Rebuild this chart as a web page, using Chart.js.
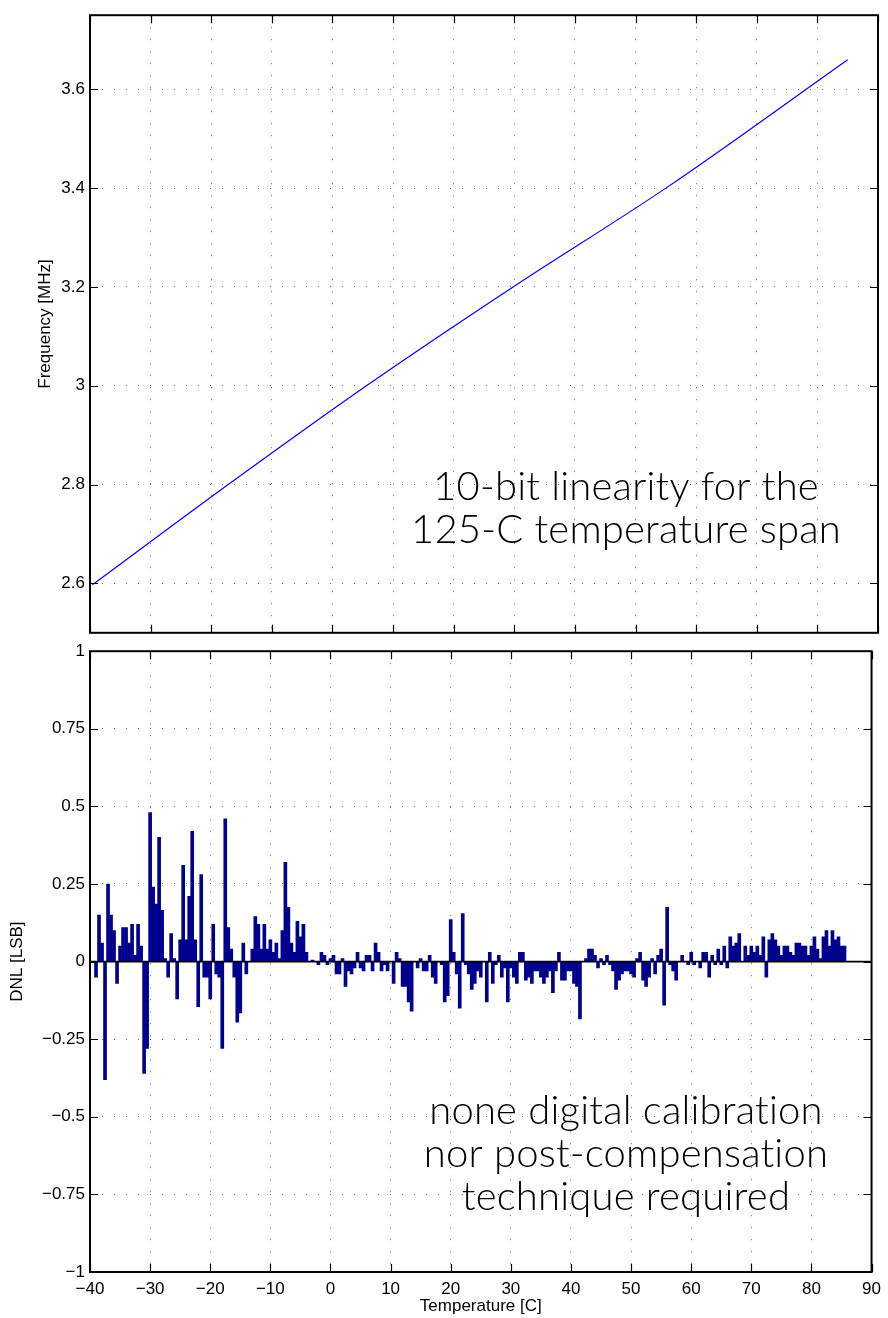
<!DOCTYPE html>
<html>
<head>
<meta charset="utf-8">
<script src="https://cdn.jsdelivr.net/npm/chart.js@4"></script>
<style>
  html, body { margin: 0; padding: 0; background: #fff; }
  #wrap { position: relative; width: 888px; height: 1318px; }
  #freq-box { position: absolute; left: 0; top: 0; width: 888px; height: 648px; }
  #dnl-box { position: absolute; left: 0; top: 636px; width: 888px; height: 682px; }
</style>
</head>
<body>
<div id="wrap">
  <div id="freq-box"><canvas id="freq-chart"></canvas></div>
  <div id="dnl-box"><canvas id="dnl-chart"></canvas></div>
</div>
<script>
// Top panel: output frequency vs temperature
const freqTemps = [-39.6, -17.2, 5.6, 29.8, 55, 85];
const freqValues = [2.597, 2.8, 3.0, 3.2, 3.4, 3.66];

// Bottom panel: DNL per code, one bar every 0.5 C
const dnlTemps = [
  -39, -38.5, -38, -37.5, -37, -36.5, -36, -35.5, -35, -34.5,
  -34, -33.5, -33, -32.5, -32, -31.5, -31, -30.5, -30, -29.5,
  -29, -28.5, -28, -27.5, -27, -26.5, -26, -25.5, -25, -24.5,
  -24, -23.5, -23, -22.5, -22, -21.5, -21, -20.5, -20, -19.5,
  -19, -18.5, -18, -17.5, -17, -16.5, -16, -15.5, -15, -14.5,
  -14, -13.5, -13, -12.5, -12, -11.5, -11, -10.5, -10, -9.5,
  -9, -8.5, -8, -7.5, -7, -6.5, -6, -5.5, -5, -4.5,
  -4, -3.5, -3, -2.5, -2, -1.5, -1, -0.5, 0, 0.5,
  1, 1.5, 2, 2.5, 3, 3.5, 4, 4.5, 5, 5.5,
  6, 6.5, 7, 7.5, 8, 8.5, 9, 9.5, 10, 10.5,
  11, 11.5, 12, 12.5, 13, 13.5, 14, 14.5, 15, 15.5,
  16, 16.5, 17, 17.5, 18, 18.5, 19, 19.5, 20, 20.5,
  21, 21.5, 22, 22.5, 23, 23.5, 24, 24.5, 25, 25.5,
  26, 26.5, 27, 27.5, 28, 28.5, 29, 29.5, 30, 30.5,
  31, 31.5, 32, 32.5, 33, 33.5, 34, 34.5, 35, 35.5,
  36, 36.5, 37, 37.5, 38, 38.5, 39, 39.5, 40, 40.5,
  41, 41.5, 42, 42.5, 43, 43.5, 44, 44.5, 45, 45.5,
  46, 46.5, 47, 47.5, 48, 48.5, 49, 49.5, 50, 50.5,
  51, 51.5, 52, 52.5, 53, 53.5, 54, 54.5, 55, 55.5,
  56, 56.5, 57, 57.5, 58, 58.5, 59, 59.5, 60, 60.5,
  61, 61.5, 62, 62.5, 63, 63.5, 64, 64.5, 65, 65.5,
  66, 66.5, 67, 67.5, 68, 68.5, 69, 69.5, 70, 70.5,
  71, 71.5, 72, 72.5, 73, 73.5, 74, 74.5, 75, 75.5,
  76, 76.5, 77, 77.5, 78, 78.5, 79, 79.5, 80, 80.5,
  81, 81.5, 82, 82.5, 83, 83.5, 84, 84.5, 85, 85.5
];
const dnlValues = [
  -0.05, 0.15, 0.06, -0.38, 0.25, 0.15, 0.10, -0.07, 0.05, 0.11,
  0.11, 0.06, 0.12, 0.02, 0.12, 0.05, -0.36, -0.28, 0.48, 0.24,
  0.185, 0.40, 0.165, 0.01, -0.05, 0.09, 0.01, -0.12, 0.07, 0.31,
  0.07, 0.21, 0.42, 0.07, -0.145, 0.28, -0.05, -0.05, -0.12, 0.12,
  -0.04, -0.05, -0.28, 0.46, 0.11, 0.04, -0.05, -0.195, -0.165, 0.06,
  -0.04, 0, 0.04, 0.145, 0.12, 0.04, 0.12, 0.04, 0.07, 0.03,
  0.06, 0.01, 0.10, 0.32, 0.175, 0.06, 0.03, 0.13, 0.08, 0.12,
  0.03, 0, 0.005, 0, -0.01, 0.03, 0.02, -0.01, 0.01, 0.02,
  -0.04, -0.04, 0.01, -0.08, -0.03, -0.04, -0.02, 0.03, -0.02, -0.03,
  0.02, 0.02, -0.03, 0.06, 0.03, -0.03, -0.01, -0.03, 0, -0.07,
  0.03, 0.01, -0.08, -0.08, -0.13, -0.16, 0, -0.02, 0.01, -0.03,
  -0.03, 0.02, -0.05, -0.07, 0, -0.01, -0.13, -0.11, 0.135, 0.03,
  -0.04, -0.15, 0.155, -0.01, -0.04, -0.09, -0.07, -0.03, -0.05, 0,
  -0.13, 0.03, -0.07, -0.01, 0.02, -0.05, -0.02, -0.13, -0.02, -0.05,
  -0.07, 0.03, 0.03, -0.06, -0.05, -0.07, -0.03, -0.03, -0.05, -0.07,
  -0.05, -0.03, -0.10, -0.03, 0.03, -0.06, -0.06, -0.03, -0.03, -0.07,
  -0.08, -0.185, 0, 0.01, 0.04, 0.04, 0.02, -0.02, 0.01, -0.01,
  0.02, -0.01, -0.03, -0.09, -0.06, -0.04, -0.03, -0.03, -0.04, -0.05,
  0.01, 0.03, -0.06, -0.08, -0.05, 0.01, -0.04, 0.02, 0.04, -0.14,
  0.175, -0.01, -0.03, -0.06, 0, 0.02, 0, -0.01, 0.03, -0.01,
  0, -0.02, 0.03, 0.03, -0.05, 0.02, -0.01, 0.04, -0.01, 0.05,
  -0.02, 0.08, 0.05, 0.06, 0.09, 0, 0.05, 0.02, 0.05, 0.03,
  0.05, 0.02, 0.08, -0.05, 0.07, 0.09, 0.07, 0.05, 0.02, 0.05,
  0.05, 0.03, 0.02, 0.06, 0.06, 0.05, 0.05, 0.02, 0.05, 0.08,
  0.04, 0.01, 0.08, 0.10, 0.05, 0.10, 0.07, 0.08, 0.05, 0.05
];

// Axis ticks and labels
const xTicks = [-40, -30, -20, -10, 0, 10, 20, 30, 40, 50, 60, 70, 80, 90];
const xLabels = ['\u221240', '\u221230', '\u221220', '\u221210', '0', '10', '20', '30', '40', '50', '60', '70', '80', '90'];
const freqTicks = [2.6, 2.8, 3.0, 3.2, 3.4, 3.6];
const freqLabels = ['2.6', '2.8', '3', '3.2', '3.4', '3.6'];
const dnlTicks = [-1, -0.75, -0.5, -0.25, 0, 0.25, 0.5, 0.75, 1];
const dnlLabels = ['\u22121', '\u22120.75', '\u22120.5', '\u22120.25', '0', '0.25', '0.5', '0.75', '1'];

// Text notes inside the panels
const freqNote = ['10-bit linearity for the', '125-C temperature span'];
const dnlNote = ['none digital calibration', 'nor post-compensation', 'technique required'];

const axisFont = { family: "'Liberation Sans', Arial, Helvetica, sans-serif", size: 17 };
const gridColor = 'rgba(0, 0, 0, 0.6)';
const barColor = '#00008f';

// MATLAB-style box with ticks pointing inwards on all four sides
const boxPlugin = {
    id: 'box',
    afterDraw(chart) {
        const { ctx, chartArea: a, scales } = chart;
        const len = 8;
        ctx.save();
        ctx.strokeStyle = '#000';
        ctx.lineWidth = 1.2;
        ctx.beginPath();
        scales.x.ticks.forEach(t => {
            const px = Math.round(scales.x.getPixelForValue(t.value)) + 0.5;
            ctx.moveTo(px, a.bottom); ctx.lineTo(px, a.bottom - len);
            ctx.moveTo(px, a.top); ctx.lineTo(px, a.top + len);
        });
        scales.y.ticks.forEach(t => {
            const py = Math.round(scales.y.getPixelForValue(t.value)) + 0.5;
            ctx.moveTo(a.left, py); ctx.lineTo(a.left + len, py);
            ctx.moveTo(a.right, py); ctx.lineTo(a.right - len, py);
        });
        ctx.stroke();
        ctx.lineWidth = 2;
        ctx.strokeRect(a.left, a.top, a.right - a.left, a.bottom - a.top);
        ctx.restore();
    }
};

// Zero baseline under the DNL bars
const baselinePlugin = {
    id: 'baseline',
    afterDatasetsDraw(chart) {
        const { ctx, chartArea: a, scales } = chart;
        const py = scales.y.getPixelForValue(0);
        ctx.save();
        ctx.strokeStyle = '#000';
        ctx.lineWidth = 1.6;
        ctx.beginPath();
        ctx.moveTo(a.left, py);
        ctx.lineTo(a.right, py);
        ctx.stroke();
        ctx.restore();
    }
};

// Big centred note text (no ligatures, like the original)
const notePlugin = {
    id: 'note',
    afterDraw(chart, args, opts) {
        const ctx = chart.ctx;
        ctx.save();
        ctx.fillStyle = '#000';
        ctx.font = "300 40px Lato, 'Liberation Sans', sans-serif";
        ctx.textAlign = 'center';
        ctx.textBaseline = 'alphabetic';
        if ('textRendering' in ctx) ctx.textRendering = 'optimizeSpeed';
        if ('letterSpacing' in ctx) ctx.letterSpacing = '0.2px';
        opts.lines.forEach((line, i) => {
            ctx.fillText(line, opts.x, opts.y + i * opts.step);
        });
        ctx.restore();
    }
};

function gridScale(min, max, ticks, labels, extra) {
    const base = {
        type: 'linear',
        min: min,
        max: max,
        offset: false,
        afterBuildTicks: s => { s.ticks = ticks.map(v => ({ value: v })); },
        ticks: {
            color: '#000',
            font: axisFont,
            padding: 5,
            maxRotation: 0,
            autoSkip: false,
            callback: (v, i) => labels[i]
        },
        grid: { color: gridColor, lineWidth: 1, drawTicks: false, offset: false },
        border: { display: false, dash: [1, 11] }
    };
    const tickExtra = extra.ticks || {};
    delete extra.ticks;
    Object.assign(base.ticks, tickExtra);
    return Object.assign(base, extra);
}

// Top chart: frequency
new Chart(document.getElementById('freq-chart'), {
    type: 'line',
    data: {
        datasets: [{
            data: freqTemps.map((t, i) => ({ x: t, y: freqValues[i] })),
            borderColor: '#0000ff',
            borderWidth: 1.2,
            pointRadius: 0,
            cubicInterpolationMode: 'monotone',
            fill: false
        }]
    },
    options: {
        responsive: true,
        maintainAspectRatio: false,
        animation: false,
        devicePixelRatio: 1,
        layout: { padding: { top: 12, right: 10, bottom: 14, left: 0 } },
        plugins: {
            legend: { display: false },
            tooltip: { enabled: false },
            note: { lines: freqNote, x: 626, y: 500, step: 43 }
        },
        scales: {
            x: gridScale(-40, 90, xTicks, xLabels, {
                afterFit: s => { s.height = 0; },
                ticks: { display: false }
            }),
            y: gridScale(2.5, 3.75, freqTicks, freqLabels, {
                afterFit: s => { s.width = 90; },
                title: { display: true, text: 'Frequency [MHz]', color: '#000', font: axisFont, padding: { top: 35, bottom: 0 } }
            })
        }
    },
    plugins: [boxPlugin, notePlugin]
});

// Bottom chart: DNL
new Chart(document.getElementById('dnl-chart'), {
    type: 'bar',
    data: {
        datasets: [{
            data: dnlTemps.map((t, i) => ({ x: t, y: dnlValues[i] })),
            backgroundColor: barColor,
            borderWidth: 0,
            barPercentage: 1,
            categoryPercentage: 1
        }]
    },
    options: {
        responsive: true,
        maintainAspectRatio: false,
        animation: false,
        devicePixelRatio: 1,
        layout: { padding: { top: 14, right: 10, bottom: 0, left: 0 } },
        plugins: {
            legend: { display: false },
            tooltip: { enabled: false },
            note: { lines: dnlNote, x: 626, y: 1124 - 636, step: 43 }
        },
        scales: {
            x: gridScale(-40, 90, xTicks, xLabels, {
                afterFit: s => { s.height = 46; },
                ticks: { padding: 7 },
                title: { display: true, text: 'Temperature [C]', color: '#000', font: axisFont, padding: { top: 0, bottom: 1 } }
            }),
            y: gridScale(-1, 1, dnlTicks, dnlLabels, {
                afterFit: s => { s.width = 90; },
                title: { display: true, text: 'DNL [LSB]', color: '#000', font: axisFont, padding: { top: 7, bottom: 0 } }
            })
        }
    },
    plugins: [baselinePlugin, boxPlugin, notePlugin]
});
</script>
</body>
</html>
